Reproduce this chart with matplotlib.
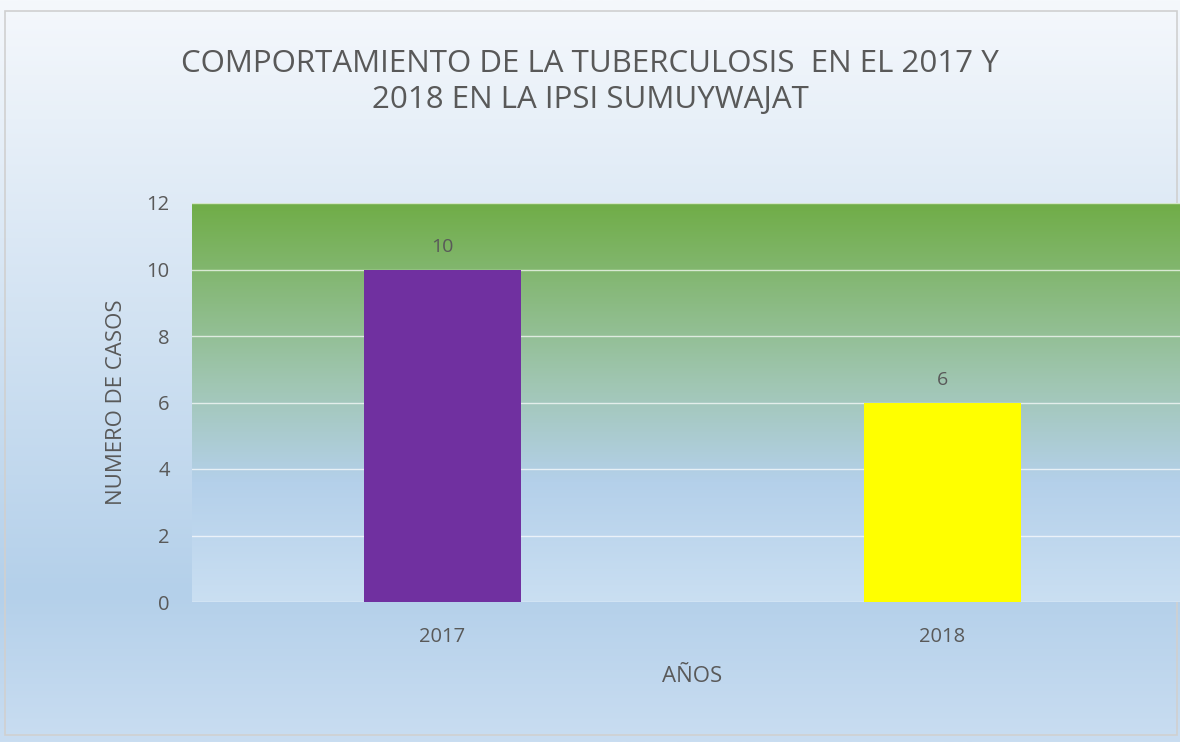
import numpy as np
import matplotlib.pyplot as plt
from matplotlib.colors import LinearSegmentedColormap
from matplotlib.patches import Rectangle

plt.rcParams['font.family'] = ['Open Sans', 'DejaVu Sans']

years = ['2017', '2018']
casos = [10, 6]
bar_colors = ['#7030a0', '#ffff00']

title = 'COMPORTAMIENTO DE LA TUBERCULOSIS  EN EL 2017 Y\n2018 EN LA IPSI SUMUYWAJAT'
text_color = '#595959'

fig = plt.figure(figsize=(11.8, 7.42), dpi=100)

# fondo de la figura (degradado vertical)
bg = fig.add_axes([0, 0, 1, 1], zorder=-10)
bg_cmap = LinearSegmentedColormap.from_list(
    'bg', [(0, '#c9ddf1'), (0.2, '#b4d0ea'), (1, '#f5f8fc')])
bg.imshow(np.linspace(0, 1, 256).reshape(-1, 1), cmap=bg_cmap, aspect='auto',
          origin='lower', extent=[0, 1, 0, 1])
bg.add_patch(Rectangle((5 / 1180, 7 / 742), 1172 / 1180, 724 / 742, fill=False,
                       edgecolor='#d0d0d0', linewidth=1.2))
bg.set_xlim(0, 1)
bg.set_ylim(0, 1)
bg.axis('off')

ax = fig.add_axes([192 / 1180, 1 - 602 / 742, 1000 / 1180, 399 / 742])
ax.set_xlim(-0.5, 1.5)
ax.set_ylim(0, 12)

# degradado del area de trazado
plot_cmap = LinearSegmentedColormap.from_list(
    'plot', [(0, '#cadff2'), (0.3, '#b4d0ea'), (0.55, '#a0c6b2'), (1, '#70ad47')])
ax.imshow(np.linspace(0, 1, 256).reshape(-1, 1), cmap=plot_cmap, aspect='auto',
          origin='lower', extent=[-0.5, 1.5, 0, 12], zorder=0)

x = np.arange(len(years))
bars = ax.bar(x, casos, width=0.314, color=bar_colors, zorder=3)
for xi, v in zip(x, casos):
    ax.text(xi, v + 0.4, str(v), ha='center', va='bottom', fontsize=14,
            color=text_color, zorder=4)

ax.set_yticks(range(0, 13, 2))
ax.yaxis.grid(True, color='white', linewidth=1, alpha=0.7, zorder=1)
ax.set_axisbelow(False)
for s in ax.spines.values():
    s.set_visible(False)
ax.set_xticks(x)
ax.set_xticklabels(years)
ax.tick_params(axis='both', length=0, labelsize=14.5, colors=text_color)
ax.tick_params(axis='y', pad=16)
ax.tick_params(axis='x', pad=18)
ax.set_xlabel('AÑOS', fontsize=16, color=text_color, labelpad=14)
ax.set_ylabel('NUMERO DE CASOS', fontsize=16, color=text_color, labelpad=14)
ax.set_facecolor('none')

fig.text(0.5, 1 - 82 / 742, title, ha='center', va='center', fontsize=22.5,
         color=text_color, linespacing=1.3)

fig.savefig('out.png', dpi=100)
